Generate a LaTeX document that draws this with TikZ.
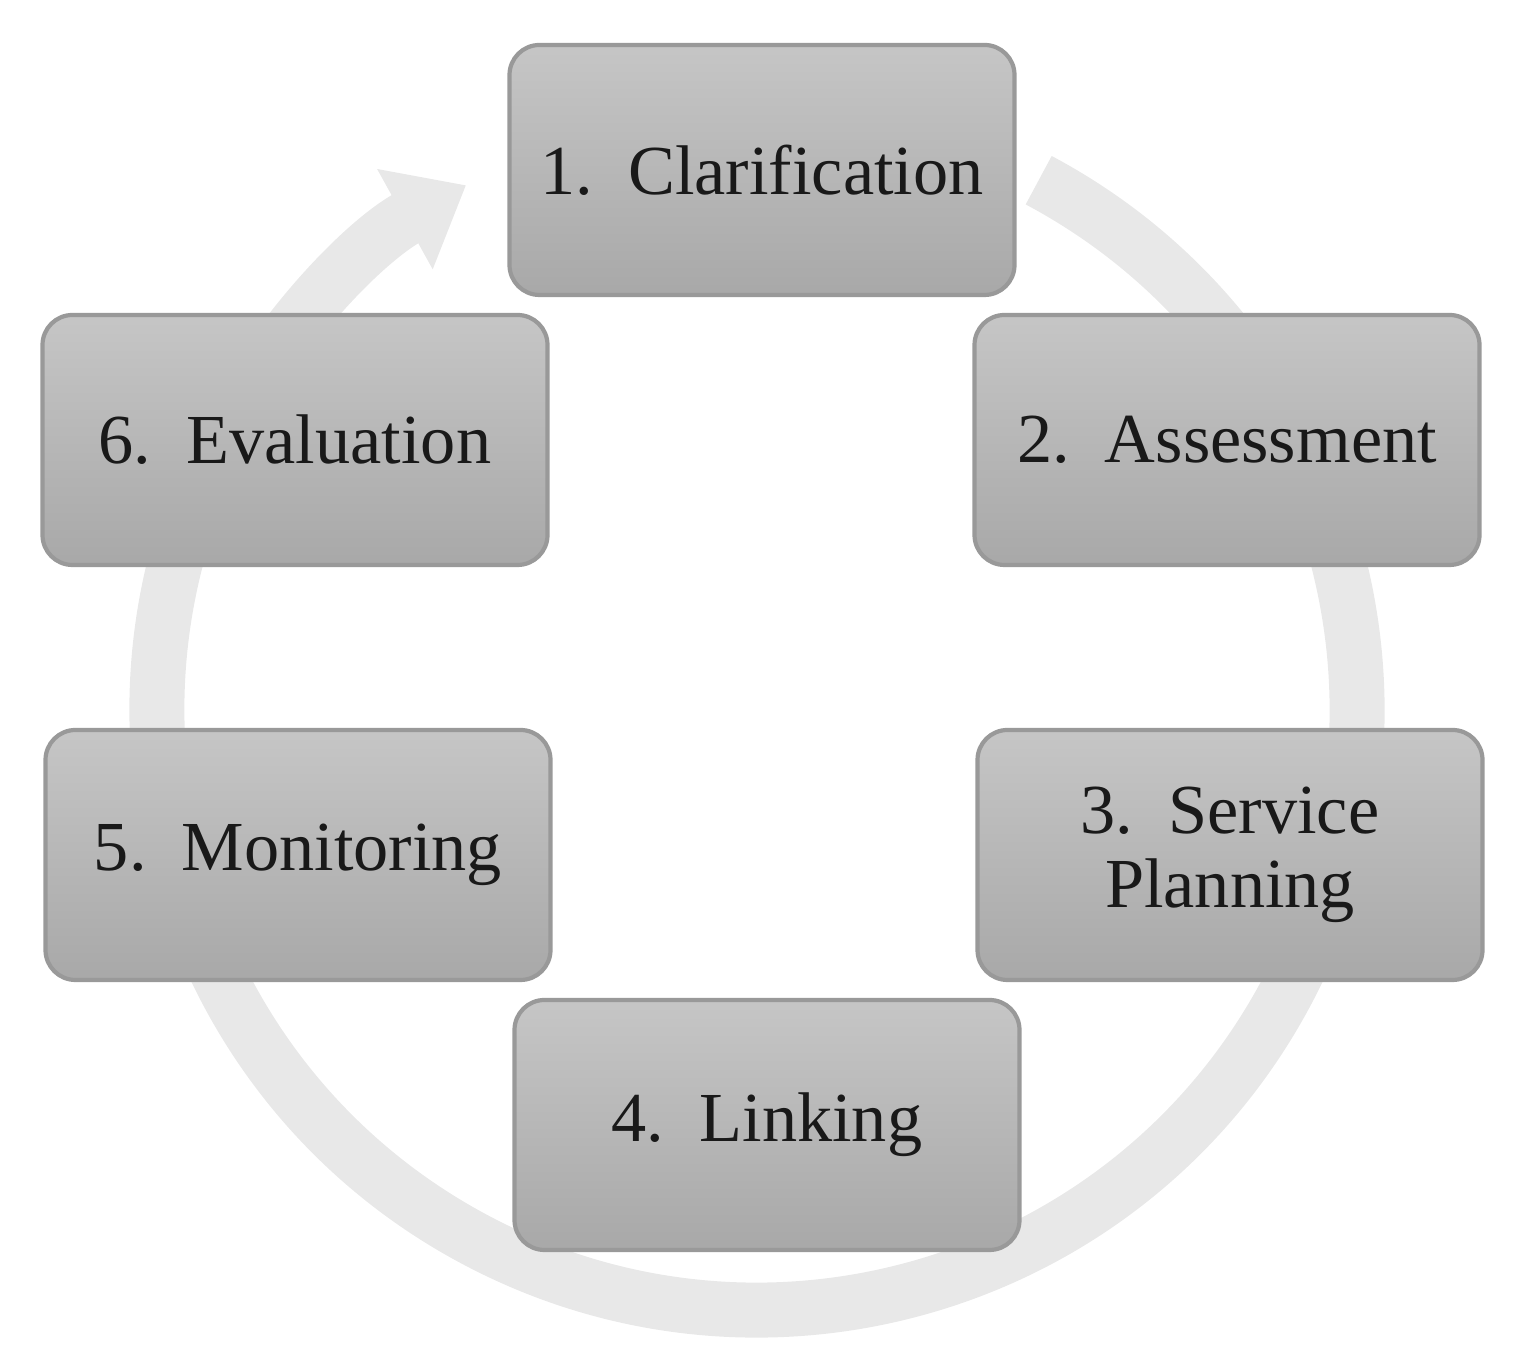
\documentclass[tikz,border=0pt]{standalone}
\usepackage{fontspec}
\setmainfont{Liberation Serif}
\usetikzlibrary{arrows.meta}
\begin{document}
\begin{tikzpicture}
\useasboundingbox (0,0) rectangle (15.24,13.72);
\tikzset{stagebox/.style={draw=gray!80,line width=1.2pt,rounded corners=0.3cm,
  top color=gray!45,bottom color=gray!68,minimum width=5.05cm,minimum height=2.5cm,
  text width=4.6cm,align=center,font=\fontsize{20}{21}\selectfont,text=black!90}}
\coordinate (c) at (7.57,6.62);
\draw[gray!18,line width=0.55cm,-{Triangle[length=0.7cm,width=1.1cm]}]
  ([shift={(62:6)}]c) arc[start angle=62,end angle=-241,radius=6];
\node[stagebox] (n1) at (7.62,12.02) {1. Clarification};
\node[stagebox] (n2) at (12.27,9.32) {2. Assessment};
\node[stagebox] (n3) at (12.30,5.17) {3. Service\\Planning};
\node[stagebox] (n4) at (7.67,2.47) {4. Linking};
\node[stagebox] (n5) at (2.98,5.17) {5. Monitoring};
\node[stagebox] (n6) at (2.95,9.32) {6. Evaluation};
\end{tikzpicture}
\end{document}
